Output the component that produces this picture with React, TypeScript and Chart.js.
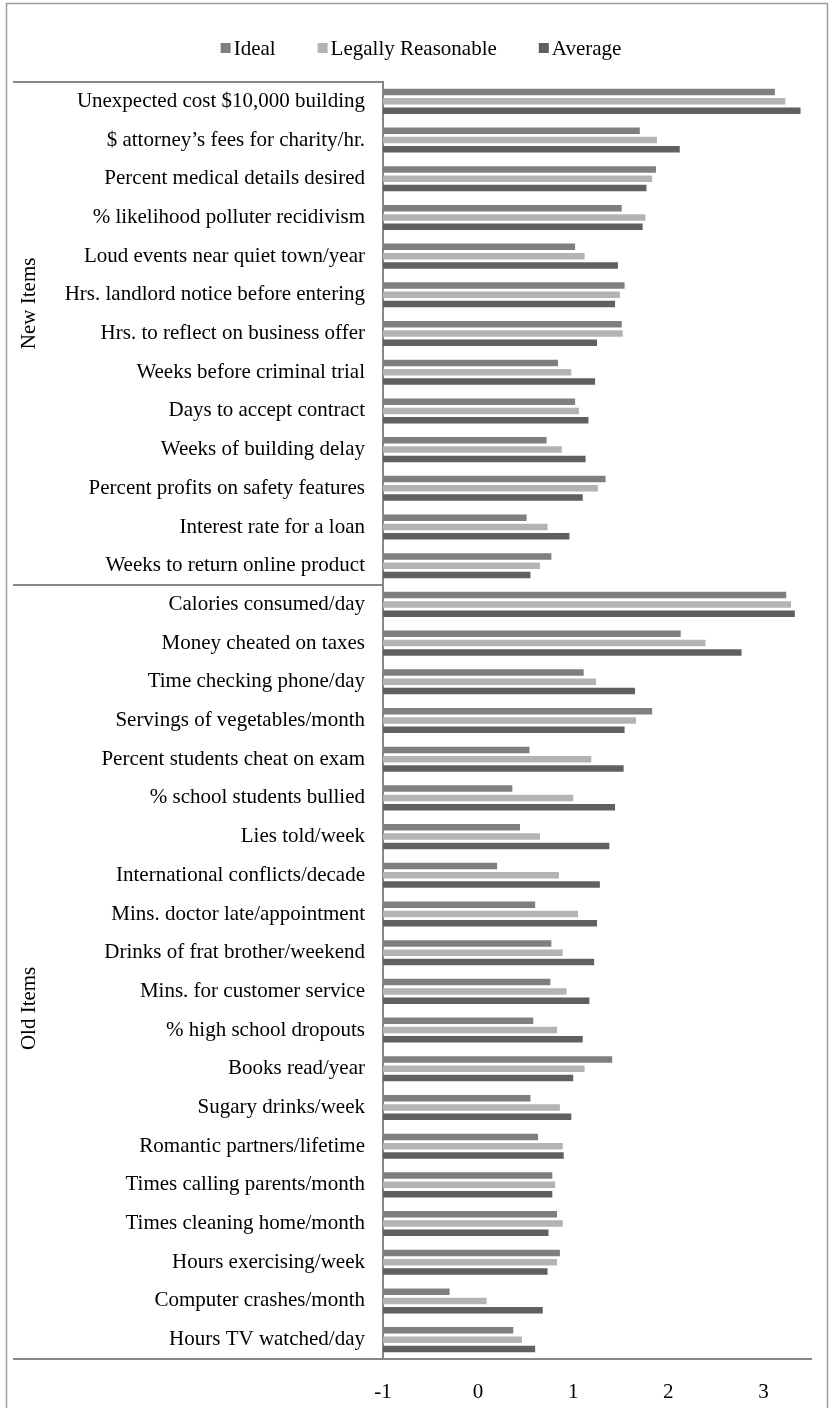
import React, { useEffect, useRef } from 'react';
import { Chart, registerables } from 'chart.js';

Chart.register(...registerables);

const categories = [
  'Unexpected cost $10,000 building',
  '$ attorney\u2019s fees for charity/hr.',
  'Percent medical details desired',
  '% likelihood polluter recidivism',
  'Loud events near quiet town/year',
  'Hrs. landlord notice before entering',
  'Hrs. to reflect on business offer',
  'Weeks before criminal trial',
  'Days to accept contract',
  'Weeks of building delay',
  'Percent profits on safety features',
  'Interest rate for a loan',
  'Weeks to return online product',
  'Calories consumed/day',
  'Money cheated on taxes',
  'Time checking phone/day',
  'Servings of vegetables/month',
  'Percent students cheat on exam',
  '% school students bullied',
  'Lies told/week',
  'International conflicts/decade',
  'Mins. doctor late/appointment',
  'Drinks of frat brother/weekend',
  'Mins. for customer service',
  '% high school dropouts',
  'Books read/year',
  'Sugary drinks/week',
  'Romantic partners/lifetime',
  'Times calling parents/month',
  'Times cleaning home/month',
  'Hours exercising/week',
  'Computer crashes/month',
  'Hours TV watched/day',
];

const groupLabels = ['New Items', 'Old Items'];
const groupSizes = [13, 20];

const ideal = [
  3.12, 1.70, 1.87, 1.51, 1.02, 1.54, 1.51, 0.84, 1.02, 0.72, 1.34, 0.51, 0.77,
  3.24, 2.13, 1.11, 1.83, 0.54, 0.36, 0.44, 0.20, 0.60, 0.77, 0.76, 0.58, 1.41,
  0.55, 0.63, 0.78, 0.83, 0.86, -0.30, 0.37,
];
const legallyReasonable = [
  3.23, 1.88, 1.83, 1.76, 1.12, 1.49, 1.52, 0.98, 1.06, 0.88, 1.26, 0.73, 0.65,
  3.29, 2.39, 1.24, 1.66, 1.19, 1.00, 0.65, 0.85, 1.05, 0.89, 0.93, 0.83, 1.12,
  0.86, 0.89, 0.81, 0.89, 0.83, 0.09, 0.46,
];
const average = [
  3.39, 2.12, 1.77, 1.73, 1.47, 1.44, 1.25, 1.23, 1.16, 1.13, 1.10, 0.96, 0.55,
  3.33, 2.77, 1.65, 1.54, 1.53, 1.44, 1.38, 1.28, 1.25, 1.22, 1.17, 1.10, 1.00,
  0.98, 0.90, 0.78, 0.74, 0.73, 0.68, 0.60,
];

const seriesNames = ['Ideal', 'Legally Reasonable', 'Average'];
const seriesColors = ['#7f7f7f', '#b3b3b3', '#606060'];
const xTicks = [-1, 0, 1, 2, 3];
const xMin = -1;
const xMax = 3.5;

const FONT = "'Liberation Serif', 'Times New Roman', serif";
const FONT_SIZE = 21;
const AXIS_COLOR = '#878787';
// vertical placement of each group label inside its span (fraction from top)
const groupLabelFrac = [0.44, 0.547];

const decorPlugin = {
  id: 'decor',
  beforeDraw(chart: any) {
    const ctx = chart.ctx;
    ctx.save();
    ctx.fillStyle = '#ffffff';
    ctx.fillRect(0, 0, chart.width, chart.height);
    ctx.strokeStyle = '#9a9a9a';
    ctx.lineWidth = 1.5;
    ctx.strokeRect(6.5, 3.5, chart.width - 9, chart.height + 20);
    ctx.restore();
  },
  afterDraw(chart: any) {
    const ctx = chart.ctx;
    const area = chart.chartArea;
    const yScale = chart.scales.y;
    ctx.save();
    ctx.strokeStyle = AXIS_COLOR;
    ctx.lineWidth = 2;
    let start = 0;
    const bounds: number[] = [yScale.getPixelForValue(-0.5)];
    groupSizes.forEach((n) => {
      start += n;
      bounds.push(yScale.getPixelForValue(start - 0.5));
    });
    bounds.forEach((b) => {
      ctx.beginPath();
      ctx.moveTo(13, b);
      ctx.lineTo(area.left, b);
      ctx.stroke();
    });
    ctx.fillStyle = '#000';
    ctx.font = `${FONT_SIZE}px ${FONT}`;
    ctx.textAlign = 'center';
    ctx.textBaseline = 'middle';
    groupLabels.forEach((g, i) => {
      const cy = bounds[i] + (bounds[i + 1] - bounds[i]) * groupLabelFrac[i];
      ctx.save();
      ctx.translate(29, cy);
      ctx.rotate(-Math.PI / 2);
      ctx.fillText(g, 0, 0);
      ctx.restore();
    });
    // legend
    const box = 10;
    const gapBoxText = 3;
    const itemGap = 42;
    const widths = seriesNames.map((s) => box + gapBoxText + ctx.measureText(s).width);
    const total = widths.reduce((a, b) => a + b, 0) + itemGap * (seriesNames.length - 1);
    let x = chart.width / 2 - total / 2 + 6;
    const ly = 48;
    ctx.textAlign = 'left';
    seriesNames.forEach((s, i) => {
      ctx.fillStyle = chart.data.datasets[i].backgroundColor;
      ctx.fillRect(x, ly - 5, box, box);
      ctx.fillStyle = '#000';
      ctx.fillText(s, x + box + gapBoxText, ly + 1);
      x += widths[i] + itemGap;
    });
    ctx.restore();
  },
};

export default function App() {
  const ref = useRef<HTMLCanvasElement | null>(null);
  useEffect(() => {
    if (!ref.current) return;
    const chart = new Chart(ref.current, {
      type: 'bar',
      data: {
        labels: categories,
        datasets: [ideal, legallyReasonable, average].map((d, i) => ({
          label: seriesNames[i],
          data: d,
          backgroundColor: seriesColors[i],
          borderWidth: 0,
          base: xMin,
          categoryPercentage: 0.72,
          barPercentage: 0.7,
        })),
      },
      options: {
        indexAxis: 'y',
        animation: false,
        responsive: false,
        maintainAspectRatio: false,
        devicePixelRatio: 1,
        layout: { padding: { top: 82, right: 19, left: 0, bottom: 0 } },
        plugins: {
          legend: { display: false },
          tooltip: { enabled: false },
        },
        scales: {
          x: {
            type: 'linear',
            min: xMin,
            max: xMax,
            afterBuildTicks: (scale: any) => {
              scale.ticks = xTicks.map((v) => ({ value: v }));
            },
            afterFit: (scale: any) => {
              scale.height = 49;
            },
            grid: { display: false, drawTicks: false },
            border: { display: true, color: AXIS_COLOR, width: 2 },
            ticks: {
              color: '#000',
              font: { family: FONT, size: FONT_SIZE },
              padding: 21,
              maxRotation: 0,
            },
          },
          y: {
            type: 'category',
            afterFit: (scale: any) => {
              scale.width = 383;
            },
            grid: { display: false, drawTicks: false },
            border: { display: true, color: AXIS_COLOR, width: 2 },
            ticks: {
              color: '#000',
              font: { family: FONT, size: FONT_SIZE },
              padding: 18,
              autoSkip: false,
            },
          },
        },
      },
      plugins: [decorPlugin],
    });
    return () => chart.destroy();
  }, []);
  return (
    <div style={{ position: 'absolute', left: 0, top: 0, width: 830, height: 1408 }}>
      <canvas ref={ref} width={830} height={1408} style={{ width: 830, height: 1408, display: 'block' }} />
    </div>
  );
}
